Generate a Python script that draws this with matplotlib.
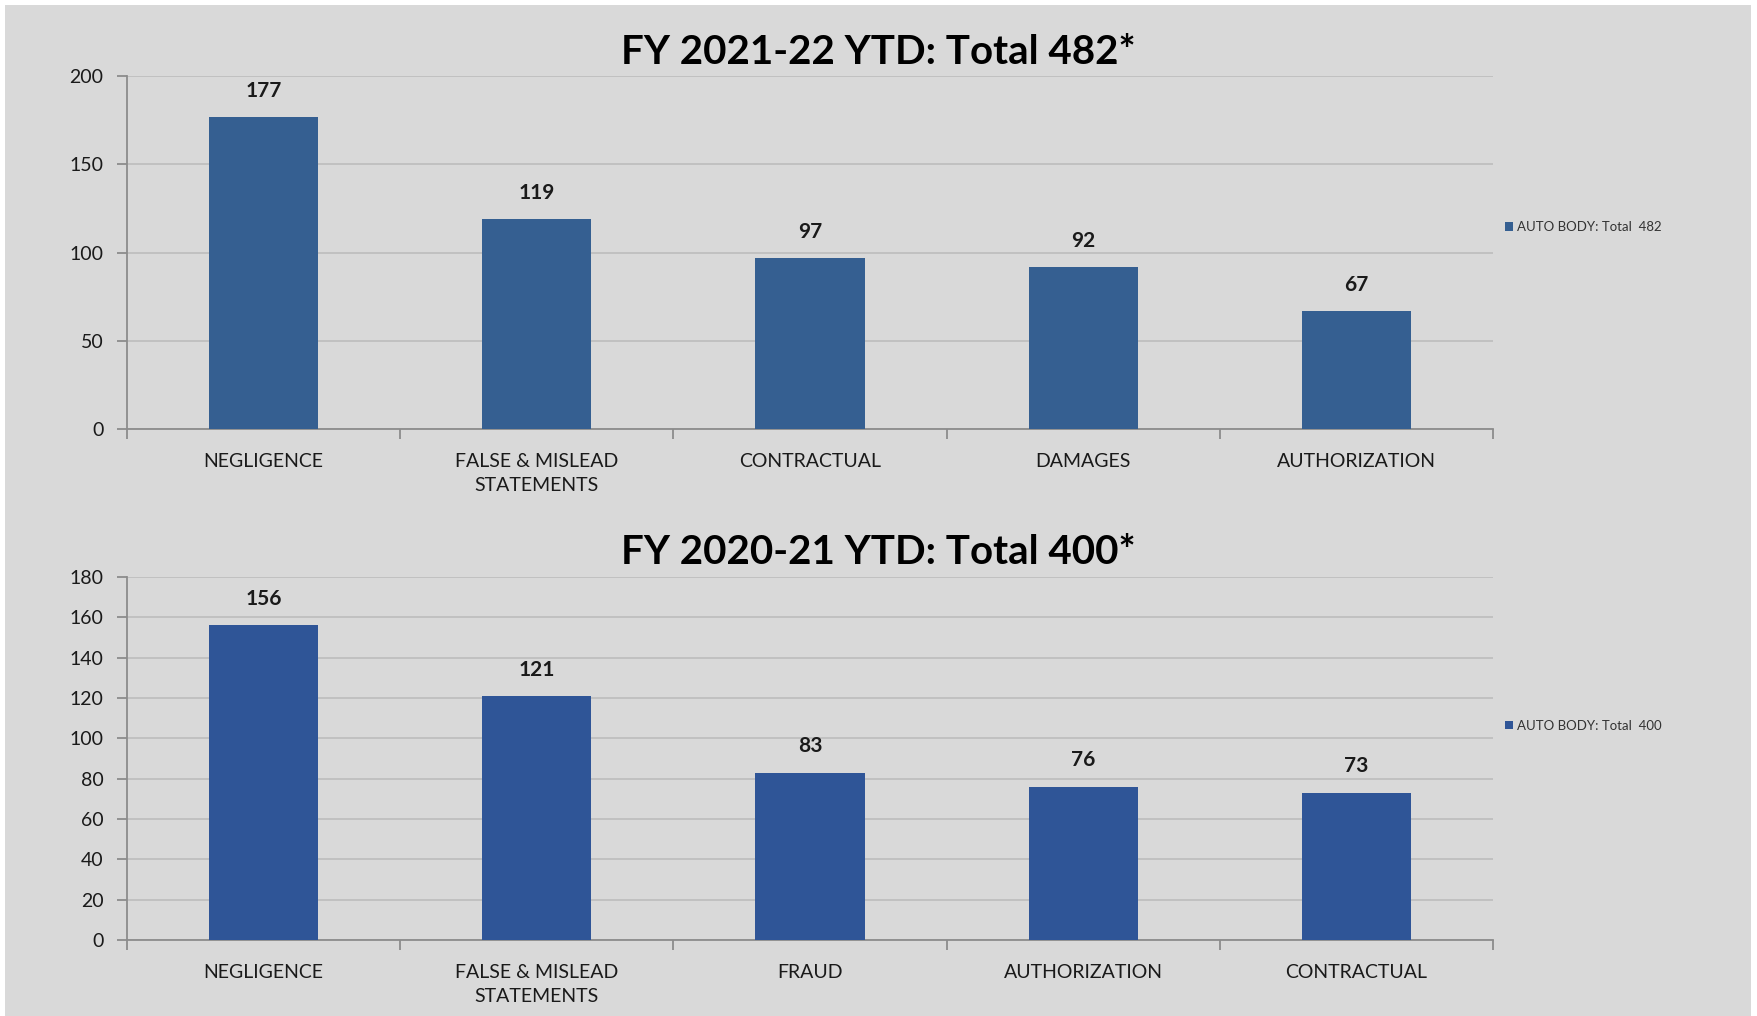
import matplotlib.pyplot as plt
import numpy as np

plt.rcParams['font.family'] = ['Lato', 'DejaVu Sans']

cats_2122 = ['NEGLIGENCE', 'FALSE & MISLEAD\nSTATEMENTS', 'CONTRACTUAL', 'DAMAGES', 'AUTHORIZATION']
vals_2122 = [177, 119, 97, 92, 67]
cats_2021 = ['NEGLIGENCE', 'FALSE & MISLEAD\nSTATEMENTS', 'FRAUD', 'AUTHORIZATION', 'CONTRACTUAL']
vals_2021 = [156, 121, 83, 76, 73]

bg = '#d9d9d9'
W, H = 1757, 1016
fig = plt.figure(figsize=(W / 100, H / 100), dpi=100, facecolor='white')
# gray panel behind everything
fig.patches.append(plt.Rectangle((5 / W, 0), 1746 / W, 1 - 5 / H, transform=fig.transFigure,
                                 facecolor=bg, edgecolor='none', zorder=-10))


def panel(rect, cats, vals, ymax, step, color, title, title_y, leg, leg_y):
    ax = fig.add_axes(rect)
    ax.set_facecolor(bg)
    x = np.arange(len(cats))
    ax.bar(x, vals, width=0.4, color=color, zorder=3, label=leg)
    for xi, v in zip(x, vals):
        ax.text(xi, v + ymax * 0.045, str(v), ha='center', va='bottom', fontsize=15,
                fontweight='bold', color='#1a1a1a')
    ax.set_xlim(-0.5, len(cats) - 0.5)
    ax.set_ylim(0, ymax)
    ax.set_yticks(np.arange(0, ymax + 1, step))
    ax.yaxis.grid(True, color='#bdbdbd', linewidth=1.2, zorder=0)
    for s in ['top', 'right']:
        ax.spines[s].set_visible(False)
    for s in ['left', 'bottom']:
        ax.spines[s].set_color('#8c8c8c')
        ax.spines[s].set_linewidth(1.3)
    ax.set_xticks(x)
    ax.set_xticklabels(cats, fontsize=14, color='#1a1a1a', linespacing=1.55)
    ax.tick_params(axis='x', length=0, pad=17)
    ax.set_xticks(np.arange(-0.5, len(cats)), minor=True)
    ax.tick_params(axis='x', which='minor', length=7, color='#8c8c8c', width=1.3)
    ax.tick_params(axis='y', labelsize=14, labelcolor='#1a1a1a', length=7,
                   color='#8c8c8c', width=1.3, pad=10)
    fig.text(0.5, 1 - title_y / H, title, ha='center', va='center', fontsize=29,
             fontweight='bold', color='black')
    ax.legend(loc='center left', bbox_to_anchor=(1.0, leg_y), frameon=False, fontsize=9.5,
              handlelength=0.6, handleheight=0.6, handletextpad=0.3, labelcolor='#333333')
    return ax


panel([127 / W, 1 - 429 / H, 1366 / W, 353 / H], cats_2122, vals_2122, 200, 50,
      '#355f91', 'FY 2021-22 YTD: Total 482*', 53, 'AUTO BODY: Total  482', 0.572)
panel([127 / W, 1 - 940 / H, 1366 / W, 363 / H], cats_2021, vals_2021, 180, 20,
      '#2f5597', 'FY 2020-21 YTD: Total 400*', 552, 'AUTO BODY: Total  400', 0.59)

fig.savefig('out.png', dpi=100, facecolor='white')
